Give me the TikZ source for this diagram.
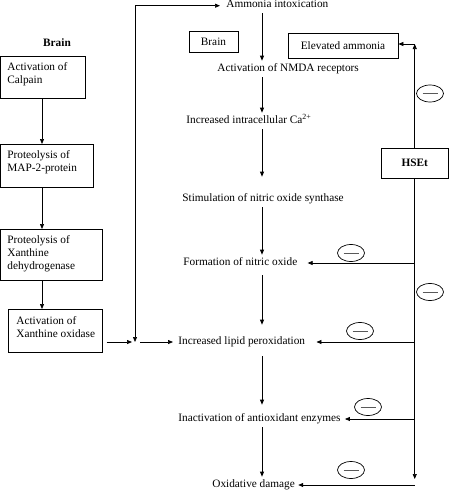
\documentclass[tikz,border=0pt]{standalone}
\usepackage{fontspec}
\setmainfont{Liberation Serif}
\usetikzlibrary{arrows.meta,shapes.geometric}
\begin{document}
\begin{tikzpicture}[x=1pt,y=-1pt,
  font=\fontsize{11.3}{13.1}\selectfont,
  line width=0.7pt,
  arr/.style={-{Triangle[length=5pt,width=4pt]}},
  box/.style={draw, rectangle, anchor=north west, inner sep=0pt},
  btxt/.style={align=left, anchor=north west, inner sep=0pt},
  ctxt/.style={inner xsep=0pt, inner ysep=3.5pt, text height=7pt, text depth=2pt, anchor=west},
  minus/.style={draw, ellipse, minimum width=27pt, minimum height=17pt, inner sep=0pt}]
\useasboundingbox (0,0) rectangle (449,490);

% left column
\node[font=\fontsize{11.3}{13.1}\selectfont\bfseries] (brainL) at (57,43) {Brain};
\node[box, minimum width=84.5pt, minimum height=42pt] (calp) at (0.5,56) {};
\node[btxt] (calpT) at (7,62.5) {Activation of\\Calpain};
\node[box, minimum width=92.5pt, minimum height=43pt] (map) at (0.5,144) {};
\node[btxt] (mapT) at (7,150.5) {Proteolysis of\\MAP-2-protein};
\node[box, minimum width=101.5pt, minimum height=51pt] (xd) at (0.5,229) {};
\node[btxt] (xdT) at (7,234.8) {Proteolysis of\\Xanthine\\dehydrogenase};
\node[box, minimum width=94pt, minimum height=43pt] (xo) at (8,309) {};
\node[btxt] (xoT) at (16,316) {Activation of\\Xanthine oxidase};
\coordinate (lcol) at (42,0);
\draw[arr] (calp.south -| lcol) -- (map.north -| lcol);
\draw[arr] (map.south -| lcol) -- (xd.north -| lcol);
\draw[arr] (xd.south -| lcol) -- (xo.north -| lcol);

% central column
\coordinate (col) at (262,0);
\node[ctxt] (amm) at (226,5) {Ammonia intoxication};
\node[ctxt] (nmda) at (217,69) {Activation of NMDA receptors};
\node[ctxt] (ca) at (186,121) {Increased intracellular Ca\textsuperscript{2+}};
\node[ctxt] (stim) at (182,199) {Stimulation of nitric oxide synthase};
\node[ctxt] (form) at (183,263) {Formation of nitric oxide};
\node[ctxt] (lipid) at (178,342) {Increased lipid peroxidation};
\node[ctxt] (inact) at (178,419) {Inactivation of antioxidant enzymes};
\node[ctxt] (ox) at (212,485) {Oxidative damage};

\draw[arr] (amm.south -| col) -- (nmda.north -| col);
\draw[arr] (nmda.south -| col) -- (ca.north -| col);
\draw[arr, shorten >=14pt] (ca.south -| col) -- (stim.north -| col);
\draw[arr] (stim.south -| col) -- (form.north -| col);
\draw[arr, shorten <=4pt, shorten >=9pt] (form.south -| col) -- (lipid.north -| col);
\draw[arr, shorten <=6pt, shorten >=6pt] (lipid.south -| col) -- (inact.north -| col);
\draw[arr] (inact.south -| col) -- (ox.north -| col);

% junction feeding lipid peroxidation
\coordinate (junc) at (135,342);
\draw[arr, shorten <=4pt, shorten >=3pt] (xo.east |- junc) -- (junc);
\draw[arr, shorten <=5pt, shorten >=5pt] (junc) -- (lipid.west);
\draw[{Triangle[length=5pt,width=4pt]}-{Triangle[length=5pt,width=4pt]}, shorten >=6pt] (junc) -- (135,5.7) -- (amm.west |- 0,5.7);

% right side
\node[draw, minimum width=49pt, minimum height=21pt, inner sep=0pt] (brainR) at (213.5,41.5) {Brain};
\node[draw, minimum width=110pt, minimum height=25pt, inner sep=0pt] (elev) at (343,45.5) {Elevated ammonia};
\node[draw, minimum width=67.5pt, minimum height=30pt, inner sep=0pt, font=\fontsize{11.3}{13.1}\selectfont\bfseries] (hset) at (414.75,163) {HSEt};
\coordinate (topc) at (414.75,44);
\draw[arr] (hset.north) -- (topc);
\draw[arr] (topc) -- (elev.east |- topc);
\coordinate (vend) at (414.75,479);
\draw[arr] (hset.south) -- (vend);
\draw[arr, shorten >=10pt] (form -| hset) -- (form.east);
\draw[arr, shorten >=11pt] (lipid -| hset) -- (lipid.east);
\draw[arr, shorten >=4pt] (inact -| hset) -- (inact.east);
\draw[arr, shorten >=3pt] (ox -| hset) -- (ox.east);

% inhibition marks
\foreach \n/\p in {m1/{(430,93.5)}, m2/{(351,253)}, m3/{(430,292)}, m4/{(360,331)}, m5/{(368,407)}, m6/{(351,470)}}{
  \node[minus] (\n) at \p {};
  \draw[gray!70!black, line width=0.9pt] ([xshift=-7.5pt]\n.center) -- ([xshift=7.5pt]\n.center);
}
\end{tikzpicture}
\end{document}
